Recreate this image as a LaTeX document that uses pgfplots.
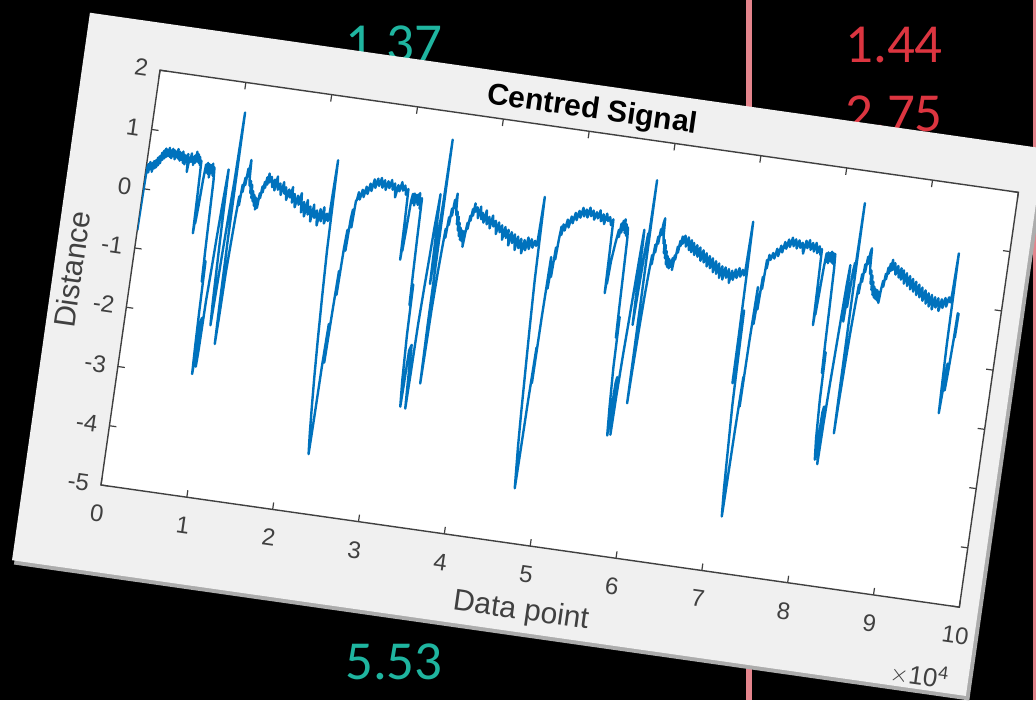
\documentclass[border=0pt]{standalone}
\usepackage{fontspec}
\setmainfont{Liberation Sans}
\newfontfamily\slidefont{Carlito}
\usepackage{pgfplots}
\pgfplotsset{compat=1.18}
\definecolor{mblue}{HTML}{0072BD}
\definecolor{mgray}{HTML}{404040}
\definecolor{panel}{HTML}{F0F0F0}
\definecolor{tealnum}{HTML}{1FB5A0}
\definecolor{rednum}{HTML}{DC3540}
\definecolor{pinkline}{HTML}{E4848C}

\begin{document}
\begin{tikzpicture}
\begin{scope}
\clip (0pt,0pt) rectangle (518pt,350pt);
\fill[black] (0pt,0pt) rectangle (518pt,350pt);
\fill[pinkline] (373pt,0pt) rectangle (376pt,350pt);
\fill[pinkline] (516.5pt,0pt) rectangle (518pt,350pt);
\begin{scope}[font=\slidefont\fontsize{27.5}{30}\selectfont]
\node[tealnum,anchor=base] at (197pt,319pt) {1.37};
\node[tealnum,anchor=base] at (197pt,10.5pt) {5.53};
\node[rednum,anchor=base] at (447pt,318.5pt) {1.44};
\node[rednum,anchor=base] at (447pt,284pt) {2.75};
\end{scope}
\begin{scope}[shift={(50.5pt,107.5pt)},rotate=-8.1,transform shape]
\fill[gray!65] (-37.5pt,-45.5pt) rectangle (445pt,231.5pt);
\fill[panel] (-38.75pt,-43.5pt) rectangle (443pt,233pt);
\begin{axis}[
 at={(0pt,0pt)}, anchor=south west,
 scale only axis, width=433.5pt, height=209.5pt,
 clip mode=individual,
 xmin=0, xmax=10, ymin=-5, ymax=2,
 xtick={0,1,2,3,4,5,6,7,8,9,10},
 xticklabels={0,1,2,3,4,5,6,7,8,9,10},
 ytick={-5,-4,-3,-2,-1,0,1,2},
 yticklabels={-5,-4,-3,-2,-1,0,1,2},
 axis background/.style={fill=white},
 axis line style={mgray,line width=0.7pt},
 tick style={mgray,line width=0.6pt},
 tick align=inside, major tick length=3.5pt,
 tick label style={font=\fontsize{12}{14}\selectfont,text=mgray},
 xticklabel style={yshift=-6.5pt},
 yticklabel style={xshift=-2.5pt},
 xlabel={Data point}, ylabel={Distance},
 label style={font=\fontsize{15}{17}\selectfont,text=mgray},
 x label style={at={(axis description cs:0.5,-0.158)},anchor=center},
 y label style={at={(axis description cs:-0.068,0.5)},anchor=center},
]
\addplot[mblue,line width=1.2pt,line join=round] coordinates {
(0.000,-0.70) (0.005,-0.10) (0.010,0.32)
(0.02,0.42) (0.03,0.28) (0.04,0.46) (0.05,0.34) (0.06,0.44) (0.07,0.30) (0.08,0.48) (0.09,0.36)
(0.10,0.50) (0.11,0.38) (0.12,0.55) (0.13,0.42) (0.14,0.58) (0.15,0.46) (0.16,0.64) (0.17,0.52)
(0.18,0.68) (0.19,0.55) (0.20,0.72) (0.21,0.58) (0.22,0.70) (0.23,0.60) (0.24,0.74) (0.25,0.59)
(0.26,0.70) (0.27,0.57) (0.28,0.73) (0.29,0.61) (0.30,0.71) (0.31,0.56) (0.32,0.69) (0.33,0.60)
(0.34,0.74) (0.35,0.58) (0.36,0.70) (0.37,0.55) (0.38,0.68) (0.39,0.57) (0.40,0.71) (0.41,0.52)
(0.42,0.66) (0.43,0.50) (0.44,0.65) (0.45,0.54) (0.46,0.68) (0.47,0.38) (0.48,0.62) (0.49,0.55)
(0.50,0.70) (0.51,0.56) (0.52,0.64) (0.53,0.51) (0.54,0.67) (0.55,0.55) (0.56,0.74) (0.57,0.58)
(0.58,0.70) (0.59,0.56) (0.60,0.66) (0.61,0.52) (0.62,0.60)
(0.63,0.05) (0.64,-0.62) (0.645,-0.35) (0.65,-0.45) (0.66,-0.15) (0.67,0.30) (0.68,0.55) (0.69,0.42)
(0.70,0.58) (0.71,0.40) (0.72,0.56) (0.73,0.34) (0.74,0.55) (0.75,0.42) (0.76,0.58) (0.77,0.38)
(0.78,0.52) (0.79,0.30)
(0.80,-0.30) (0.81,-0.90) (0.82,-1.40) (0.83,-1.05) (0.84,-1.90) (0.85,-2.50) (0.86,-2.95) (0.865,-2.70)
(0.87,-2.10) (0.88,-2.00) (0.89,-2.82) (0.895,-2.55) (0.90,-1.70) (0.91,-1.20) (0.92,-0.60) (0.93,-0.10)
(0.94,0.30) (0.945,0.52) (0.95,0.15) (0.96,-0.55) (0.97,-1.20) (0.98,-1.75) (0.99,-2.10) (1.00,-1.50)
(1.01,-0.80) (1.02,-0.20) (1.03,0.35) (1.04,1.50) (1.045,0.30) (1.05,-0.70) (1.06,-1.70) (1.07,-2.40)
(1.075,-1.95) (1.08,-1.20) (1.09,-0.70) (1.10,-0.25) (1.11,0.10) (1.12,-0.05) (1.13,0.30) (1.14,0.18)
(1.15,0.42) (1.16,0.30) (1.17,0.58) (1.18,0.45) (1.19,0.73) (1.20,0.42) (1.21,0.30) (1.22,0.38)
(1.23,0.18) (1.24,0.32) (1.25,0.10) (1.26,0.22) (1.27,0.05) (1.28,0.16) (1.29,-0.02) (1.30,0.12)
(1.31,-0.08) (1.32,0.10) (1.33,-0.05) (1.34,0.20) (1.35,0.12) (1.36,0.32) (1.37,0.22) (1.38,0.40)
(1.39,0.30) (1.40,0.48) (1.41,0.36) (1.42,0.55) (1.43,0.40)
(1.45,0.50) (1.47,0.33) (1.49,0.46) (1.50,0.28) (1.52,0.52) (1.54,0.30) (1.56,0.41) (1.58,0.22)
(1.60,0.44) (1.62,0.25) (1.63,0.36) (1.65,0.15) (1.67,0.33) (1.69,0.20) (1.71,0.38) (1.72,0.12)
(1.74,0.27) (1.76,0.05) (1.78,0.25) (1.80,0.10) (1.82,0.30) (1.84,-0.02) (1.86,0.16) (1.88,-0.08)
(1.90,0.20) (1.92,-0.04) (1.94,0.10) (1.96,-0.15) (1.98,0.14) (2.00,-0.08) (2.02,0.05) (2.04,-0.20)
(2.06,0.08) (2.08,-0.12) (2.10,0.12) (2.12,-0.15) (2.14,0.02) (2.16,-0.10) (2.17,0.05)
(2.18,0.93) (2.19,0.15) (2.20,-0.60) (2.22,-1.40) (2.24,-2.10) (2.26,-2.70) (2.28,-3.20) (2.30,-3.65)
(2.32,-4.00) (2.325,-3.40) (2.33,-2.50) (2.34,-1.80) (2.35,-2.45) (2.36,-1.60) (2.37,-0.90) (2.38,-1.30)
(2.39,-0.50) (2.40,-0.20) (2.41,-0.55) (2.42,0.00) (2.43,0.15) (2.44,-0.15) (2.45,0.30)
(2.46,0.32) (2.47,0.45) (2.49,0.33) (2.51,0.50) (2.53,0.38) (2.55,0.56) (2.57,0.44) (2.59,0.62)
(2.61,0.50) (2.63,0.70) (2.65,0.56) (2.67,0.72) (2.69,0.60) (2.71,0.74) (2.73,0.58) (2.75,0.71)
(2.77,0.55) (2.79,0.70) (2.81,0.59) (2.83,0.73) (2.85,0.57) (2.87,0.68) (2.89,0.45) (2.91,0.66)
(2.93,0.56) (2.95,0.72) (2.97,0.58) (2.99,0.67) (3.01,0.52) (3.03,0.62)
(3.04,0.10) (3.05,-0.57) (3.055,-0.30) (3.06,-0.42) (3.07,-0.05) (3.08,0.43) (3.09,0.55) (3.10,0.40)
(3.11,0.56) (3.12,0.36) (3.13,0.54) (3.14,0.42) (3.15,0.55) (3.16,0.38) (3.17,0.58) (3.18,0.44)
(3.19,0.32) (3.20,0.50)
(3.21,-0.20) (3.22,-0.80) (3.23,-1.30) (3.24,-0.95) (3.25,-1.80) (3.27,-2.55) (3.29,-3.00) (3.295,-2.60)
(3.30,-2.05) (3.32,-1.95) (3.34,-2.70) (3.35,-3.02) (3.355,-2.40) (3.36,-1.60) (3.37,-1.00) (3.38,-0.50)
(3.39,0.05) (3.40,0.40) (3.405,0.61) (3.41,0.20) (3.42,-0.16) (3.43,-0.90) (3.44,-0.30) (3.45,0.50)
(3.455,1.54) (3.46,0.40) (3.465,-0.60) (3.47,-1.60) (3.48,-2.57) (3.485,-2.00) (3.49,-1.30) (3.50,-0.70)
(3.51,-0.30) (3.52,0.05) (3.53,-0.10) (3.54,0.25) (3.55,0.12) (3.56,0.40) (3.57,0.28) (3.58,0.55)
(3.59,0.42) (3.60,0.66) (3.61,0.40) (3.62,0.30) (3.63,0.36) (3.64,0.15) (3.65,0.28) (3.66,0.05)
(3.67,0.18) (3.68,-0.04) (3.69,0.10) (3.70,-0.10) (3.71,0.06) (3.72,-0.12) (3.73,0.05) (3.74,-0.21)
(3.75,0.02) (3.76,0.20) (3.77,0.10) (3.78,0.32) (3.79,0.24) (3.80,0.44) (3.81,0.33) (3.82,0.54)
(3.83,0.40)
(3.85,0.48) (3.87,0.30) (3.89,0.50) (3.91,0.29) (3.92,0.40) (3.94,0.24) (3.96,0.45) (3.98,0.22)
(4.00,0.35) (4.02,0.16) (4.04,0.38) (4.06,0.20) (4.08,0.30) (4.10,0.08) (4.12,0.28) (4.14,0.12)
(4.16,0.24) (4.18,0.00) (4.20,0.22) (4.22,0.04) (4.24,0.18) (4.26,-0.08) (4.28,0.15) (4.30,-0.03)
(4.32,0.12) (4.34,-0.14) (4.36,0.09) (4.38,-0.10) (4.40,0.06) (4.42,-0.18) (4.44,0.05) (4.46,-0.12)
(4.48,0.10) (4.50,-0.09) (4.52,0.08) (4.54,-0.06) (4.56,0.06) (4.58,-0.02) (4.59,0.05)
(4.60,0.81) (4.61,0.10) (4.62,-0.60) (4.64,-1.40) (4.66,-2.10) (4.68,-2.80) (4.70,-3.40) (4.72,-3.85)
(4.73,-4.08) (4.735,-3.43) (4.74,-2.60) (4.75,-1.70) (4.755,-2.30) (4.76,-1.20) (4.77,-0.17) (4.78,-0.70)
(4.79,-0.25) (4.80,-0.50) (4.81,0.00) (4.82,-0.20) (4.83,0.15) (4.84,0.36) (4.85,0.22)
(4.86,0.40) (4.88,0.30) (4.90,0.49) (4.92,0.36) (4.94,0.55) (4.96,0.44) (4.98,0.62) (5.00,0.50)
(5.02,0.66) (5.04,0.55) (5.06,0.72) (5.08,0.58) (5.10,0.70) (5.12,0.57) (5.14,0.74) (5.16,0.60)
(5.18,0.70) (5.20,0.55) (5.22,0.68) (5.24,0.58) (5.26,0.72) (5.28,0.54) (5.30,0.66) (5.32,0.50)
(5.34,0.68) (5.36,0.56) (5.38,0.63) (5.40,0.50) (5.42,0.60)
(5.43,0.05) (5.44,-0.64) (5.445,-0.35) (5.45,-0.48) (5.46,-0.10) (5.48,0.20) (5.50,0.44) (5.51,0.32)
(5.52,0.55) (5.53,0.40) (5.54,0.60) (5.55,0.45) (5.56,0.63) (5.57,0.40) (5.58,0.55) (5.59,0.36)
(5.60,0.50) (5.61,0.30)
(5.62,-0.25) (5.63,-0.85) (5.64,-1.35) (5.65,-1.00) (5.66,-1.85) (5.68,-2.50) (5.70,-2.99) (5.705,-2.65)
(5.71,-2.10) (5.72,-2.00) (5.73,-2.75) (5.735,-2.97) (5.74,-2.30) (5.75,-1.60) (5.76,-1.10) (5.77,-0.55)
(5.78,0.00) (5.79,0.50) (5.795,0.30) (5.80,-0.40) (5.81,-1.10) (5.82,-0.50) (5.83,0.10) (5.84,0.45)
(5.85,0.20) (5.855,1.35) (5.86,0.35) (5.865,-0.60) (5.87,-1.50) (5.875,-2.41) (5.88,-1.90) (5.89,-1.20)
(5.90,-0.60) (5.91,-0.20) (5.92,0.10) (5.93,-0.05) (5.94,0.28) (5.95,0.15) (5.96,0.42) (5.97,0.30)
(5.98,0.55) (5.99,0.45) (6.00,0.66) (6.01,0.74) (6.02,0.45) (6.03,0.32) (6.04,0.38) (6.05,0.16)
(6.06,0.30) (6.07,0.08) (6.08,0.20) (6.09,-0.02) (6.10,0.12) (6.11,-0.06) (6.12,0.08) (6.13,-0.08)
(6.14,0.05) (6.15,-0.05) (6.16,0.10) (6.17,-0.10) (6.18,0.15) (6.19,0.08) (6.20,0.30) (6.21,0.20)
(6.22,0.40) (6.23,0.32) (6.24,0.48) (6.25,0.36)
(6.27,0.50) (6.29,0.32) (6.31,0.48) (6.33,0.27) (6.35,0.44) (6.36,0.24) (6.38,0.40) (6.40,0.20)
(6.42,0.37) (6.44,0.18) (6.46,0.34) (6.48,0.12) (6.50,0.30) (6.52,0.10) (6.54,0.26) (6.56,0.04)
(6.58,0.22) (6.60,0.02) (6.62,0.19) (6.64,-0.04) (6.66,0.15) (6.68,-0.06) (6.70,0.12) (6.72,-0.12)
(6.74,0.08) (6.76,-0.14) (6.78,0.07) (6.80,-0.10) (6.82,0.05) (6.84,-0.18) (6.86,0.03) (6.88,-0.12)
(6.90,0.06) (6.92,-0.08) (6.94,0.09) (6.96,-0.05) (6.98,0.07) (7.00,-0.02) (7.01,0.04)
(7.02,0.89) (7.03,0.10) (7.04,-1.00) (7.045,-1.83) (7.05,-1.20) (7.06,-0.60) (7.07,-1.50) (7.08,-2.20)
(7.10,-2.90) (7.12,-3.60) (7.14,-4.06) (7.145,-3.40) (7.15,-2.60) (7.16,-1.70) (7.165,-2.20) (7.17,-1.10)
(7.18,-0.18) (7.19,-0.80) (7.20,-0.30) (7.21,-0.55) (7.22,0.00) (7.23,-0.20) (7.24,0.29) (7.25,0.15)
(7.26,0.38)
(7.28,0.30) (7.30,0.42) (7.32,0.33) (7.34,0.50) (7.36,0.38) (7.38,0.56) (7.40,0.45) (7.42,0.63)
(7.44,0.52) (7.46,0.68) (7.48,0.56) (7.50,0.72) (7.52,0.58) (7.54,0.70) (7.56,0.55) (7.58,0.69)
(7.60,0.57) (7.62,0.66) (7.64,0.48) (7.66,0.70) (7.68,0.58) (7.70,0.72) (7.72,0.56) (7.74,0.68)
(7.76,0.54) (7.78,0.69) (7.80,0.52) (7.82,0.64) (7.84,0.50) (7.85,0.60)
(7.86,0.00) (7.87,-0.68) (7.875,-0.38) (7.88,-0.50) (7.89,-0.12) (7.90,0.30) (7.91,0.54) (7.92,0.40)
(7.93,0.56) (7.94,0.38) (7.95,0.55) (7.96,0.42) (7.97,0.58) (7.98,0.40) (7.99,0.56) (8.00,0.38)
(8.01,0.55) (8.02,0.30)
(8.03,-0.30) (8.04,-0.95) (8.05,-1.45) (8.06,-1.10) (8.07,-1.90) (8.09,-2.55) (8.11,-2.90) (8.115,-2.60)
(8.12,-2.10) (8.13,-2.00) (8.14,-2.80) (8.145,-2.97) (8.15,-2.30) (8.16,-1.60) (8.17,-1.05) (8.18,-0.50)
(8.19,0.05) (8.20,0.40) (8.205,0.15) (8.21,-0.55) (8.22,0.10) (8.23,-0.30) (8.24,0.30) (8.25,0.45)
(8.26,0.20) (8.265,1.46) (8.27,0.30) (8.275,-0.70) (8.28,-1.60) (8.285,-2.42) (8.29,-1.90) (8.30,-1.20)
(8.31,-0.65) (8.32,-0.25) (8.33,0.10) (8.34,-0.05) (8.35,0.28) (8.36,0.15) (8.37,0.45) (8.38,0.32)
(8.39,0.58) (8.40,0.46) (8.41,0.66) (8.42,0.73) (8.43,0.42) (8.44,0.30) (8.45,0.36) (8.46,0.14)
(8.47,0.28) (8.48,0.04) (8.49,0.18) (8.50,-0.04) (8.51,0.10) (8.52,-0.08) (8.53,0.06) (8.54,-0.10)
(8.55,0.05) (8.56,-0.12) (8.57,0.02) (8.58,-0.16) (8.59,0.08) (8.60,0.22) (8.61,0.12) (8.62,0.34)
(8.63,0.25) (8.64,0.45) (8.65,0.35) (8.66,0.52) (8.67,0.40) (8.68,0.59) (8.69,0.42)
(8.71,0.54) (8.73,0.35) (8.75,0.50) (8.77,0.31) (8.79,0.47) (8.80,0.28) (8.82,0.44) (8.84,0.22)
(8.86,0.40) (8.88,0.19) (8.90,0.36) (8.92,0.14) (8.94,0.32) (8.96,0.11) (8.98,0.28) (9.00,0.06)
(9.02,0.24) (9.04,0.03) (9.06,0.20) (9.08,-0.02) (9.10,0.16) (9.12,-0.06) (9.14,0.12) (9.16,-0.10)
(9.18,0.10) (9.20,-0.14) (9.22,0.07) (9.24,-0.10) (9.26,0.06) (9.28,-0.15) (9.30,0.05) (9.32,-0.09)
(9.34,0.08) (9.36,-0.06) (9.38,0.10) (9.40,0.02) (9.41,0.15)
(9.42,0.85) (9.425,0.10) (9.43,-0.70) (9.44,-1.30) (9.45,-1.84) (9.46,-1.40) (9.47,-1.00) (9.48,-1.45)
(9.49,-1.10) (9.50,-0.60) (9.505,-0.14) (9.51,-0.55) (9.515,-0.14)
};
\node[anchor=east,text=mgray,font=\fontsize{13}{15}\selectfont,inner sep=0pt] at (axis description cs:1,-0.174) {$\times$10\textsuperscript{4}};
\end{axis}
\node[anchor=base,text=black,font=\bfseries\fontsize{15}{17}\selectfont] at (216.75pt,216pt) {Centred Signal};
\end{scope}
\end{scope}
\pgfresetboundingbox
\useasboundingbox (0pt,0pt) rectangle (518pt,350pt);
\end{tikzpicture}
\end{document}
